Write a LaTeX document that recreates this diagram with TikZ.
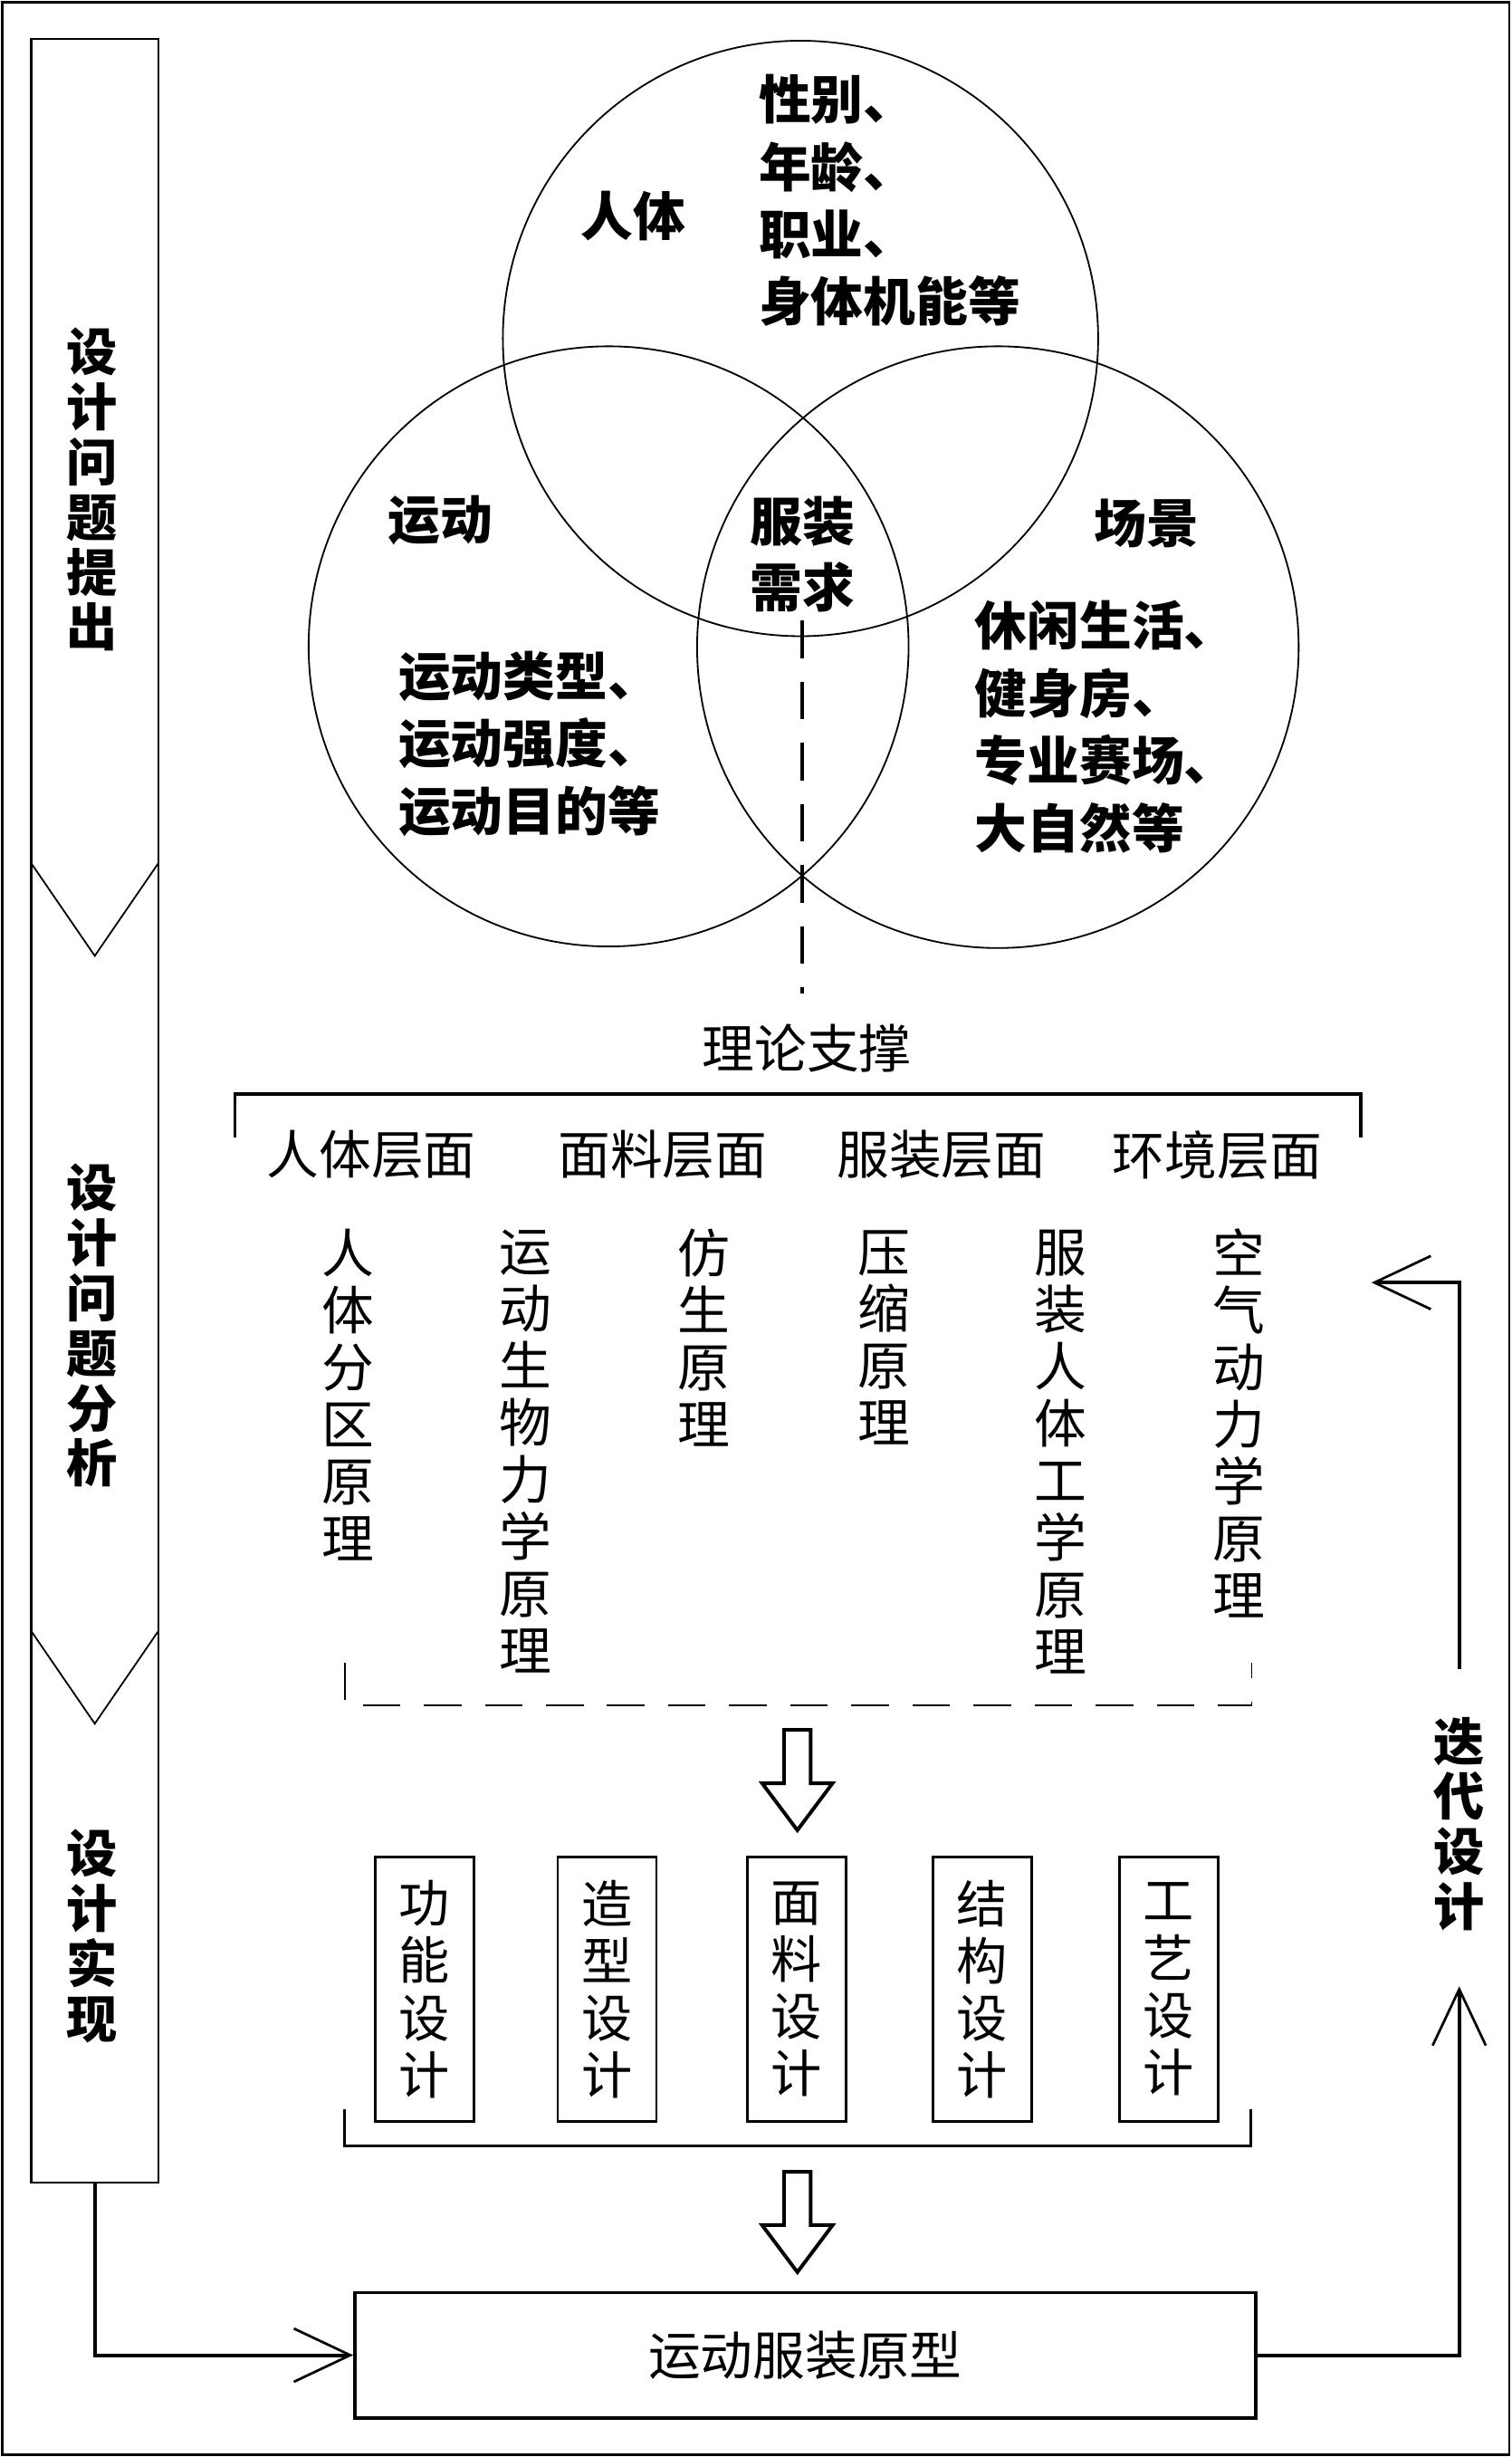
\documentclass[tikz,border=0pt]{standalone}
\usepackage{fontspec}
\setmainfont{Noto Sans CJK SC}
\usetikzlibrary{arrows.meta,positioning}

\begin{document}
\begin{tikzpicture}[
    x=0.2mm, y=-0.2mm,
    % --- Styles ---
    frame line/.style={draw=black, line width=0.9pt},
    % Left strip with the three stages
    stage strip/.style={draw, line width=0.8pt, minimum width=16.2mm,
        minimum height=273.6mm, inner sep=0pt},
    stage text/.style={font=\bfseries\fontsize{18.5pt}{20pt}\selectfont,
        align=center, inner sep=0pt},
    chevron line/.style={draw, line width=0.6pt},
    % Venn part
    venn circle/.style={draw, circle, line width=0.6pt, inner sep=0pt},
    venn title/.style={font=\bfseries\fontsize{19pt}{24pt}\selectfont,
        align=center, inner sep=0pt},
    venn text/.style={font=\bfseries\fontsize{19pt}{24.5pt}\selectfont,
        align=left, inner sep=0pt, anchor=west},
    link dash/.style={draw, line width=1.2pt, dash pattern=on 4.8mm off 3mm},
    % Theory part
    plain text/.style={font=\fontsize{19pt}{24pt}\selectfont, inner sep=0pt},
    rule text/.style={font=\fontsize{19pt}{20.7pt}\selectfont,
        align=center, inner sep=0pt},
    bracket line/.style={draw, line width=1.2pt},
    dash bracket/.style={draw, line width=0.6pt, dash pattern=on 4.8mm off 3mm},
    block arrow/.style={draw, line width=1.3pt, fill=white},
    % Design boxes
    design box/.style={draw, line width=0.9pt, minimum width=12.6mm,
        minimum height=33.8mm, inner sep=0pt, align=center,
        font=\fontsize{18.5pt}{20.8pt}\selectfont},
    proto box/.style={draw, line width=1.2pt, minimum width=115mm,
        minimum height=16mm, inner sep=0pt, font=\fontsize{19pt}{24pt}\selectfont},
    % Connectors
    flow line/.style={draw, line width=1.3pt,
        -{Straight Barb[length=7.2mm, width=6.8mm, line width=0.9pt]}}
]

\useasboundingbox (0,0) rectangle (965,1568);
\draw[frame line] (1.5,1.5) rectangle (963.5,1566.5);

%================ LEFT STRIP ================
\node[stage strip] (strip) at (60.5,709) {};
% chevrons between the stages
\foreach \yv in {551,1041} {
    \draw[chevron line] (20,\yv) -- (60.5,\yv+59) -- (101,\yv);
}
\node[stage text] (stage1) at (59,312.5) {设\\计\\问\\题\\提\\出};
\node[stage text] (stage2) at (59,846) {设\\计\\问\\题\\分\\析};
\node[stage text] (stage3) at (59,1235.5) {设\\计\\实\\现};

%================ VENN ================
\node[venn circle, minimum size=76mm] (body) at (511,216) {};
\node[venn circle, minimum size=76.6mm] (sport) at (388.5,412.5) {};
\node[venn circle, minimum size=76.8mm] (scene) at (637,413) {};

\node[venn title] (bodyt) at (404,138) {人体};
\node[venn title] (sportt) at (281,332) {运动};
\node[venn title] (scenet) at (732,334) {场景};
\node[venn title] (need) at (512.5,354) {服装\\需求};

\node[venn text] (bodyl) at (484,128) {性别、\\年龄、\\职业、\\身体机能等};
\node[venn text] (sportl) at (254,474.5) {运动类型、\\运动强度、\\运动目的等};
\node[venn text] (scenel) at (622,464) {休闲生活、\\健身房、\\专业赛场、\\大自然等};

% dashed link down to the theory part
\coordinate (needlow) at (512,396);
\coordinate (theorytop) at (512,634);
\draw[link dash] (needlow) -- (theorytop);

%================ THEORY ================
\node[plain text] (theory) at (515,669) {理论支撑};
\draw[bracket line] (150,726) -- (150,698) -- (868.5,698) -- (868.5,726);

\foreach \x/\txt [count=\i] in {237/人体层面, 423/面料层面, 601/服装层面, 777/环境层面} {
    \node[plain text] (layer\i) at (\x,737) {\txt};
}

% principle columns, first character centred at y=799
\foreach \x/\n/\txt [count=\i] in {
    222/6/{人\\体\\分\\区\\原\\理},
    335.5/8/{运\\动\\生\\物\\力\\学\\原\\理},
    449.5/4/{仿\\生\\原\\理},
    564.5/4/{压\\缩\\原\\理},
    677/8/{服\\装\\人\\体\\工\\学\\原\\理},
    791/7/{空\\气\\动\\力\\学\\原\\理}} {
    \node[rule text] (rule\i) at (\x,{799+(\n-1)*18.2}) {\txt};
}
\draw[dash bracket] (220,1061) -- (220,1088.5) -- (799,1088.5) -- (799,1061);

% hollow arrows
\foreach \ytop in {1104,1386} {
    \draw[block arrow] (500.5,\ytop) -- ++(17,0) -- ++(0,34) -- ++(14,0)
        -- ++(-22.5,30) -- ++(-22.5,-30) -- ++(14,0) -- cycle;
}

%================ DESIGN ================
\foreach \x/\txt [count=\i] in {271/{功\\能\\设\\计}, 387.5/{造\\型\\设\\计},
    508.5/{面\\料\\设\\计}, 627/{结\\构\\设\\计}, 746/{工\\艺\\设\\计}} {
    \node[design box] (design\i) at (\x,1269.5) {\txt};
}
\draw[bracket line] (220,1346) -- (220,1369.5) -- (798.5,1369.5) -- (798.5,1346);

\node[proto box] (proto) at (514,1503) {运动服装原型};

%================ LOOP ================
\node[stage text] (iter) at (931.5,1164) {迭\\代\\设\\计};
\coordinate (iterlow) at ([yshift=-7mm]iter.south);
\coordinate (iterhigh) at ([yshift=6mm]iter.north);
\coordinate (backtip) at (875.5,818.5);

\draw[flow line] (strip.south) |- (proto.west);
\draw[flow line] (proto.east) -| (iterlow);
\draw[flow line] (iterhigh) |- (backtip);

\end{tikzpicture}
\end{document}
